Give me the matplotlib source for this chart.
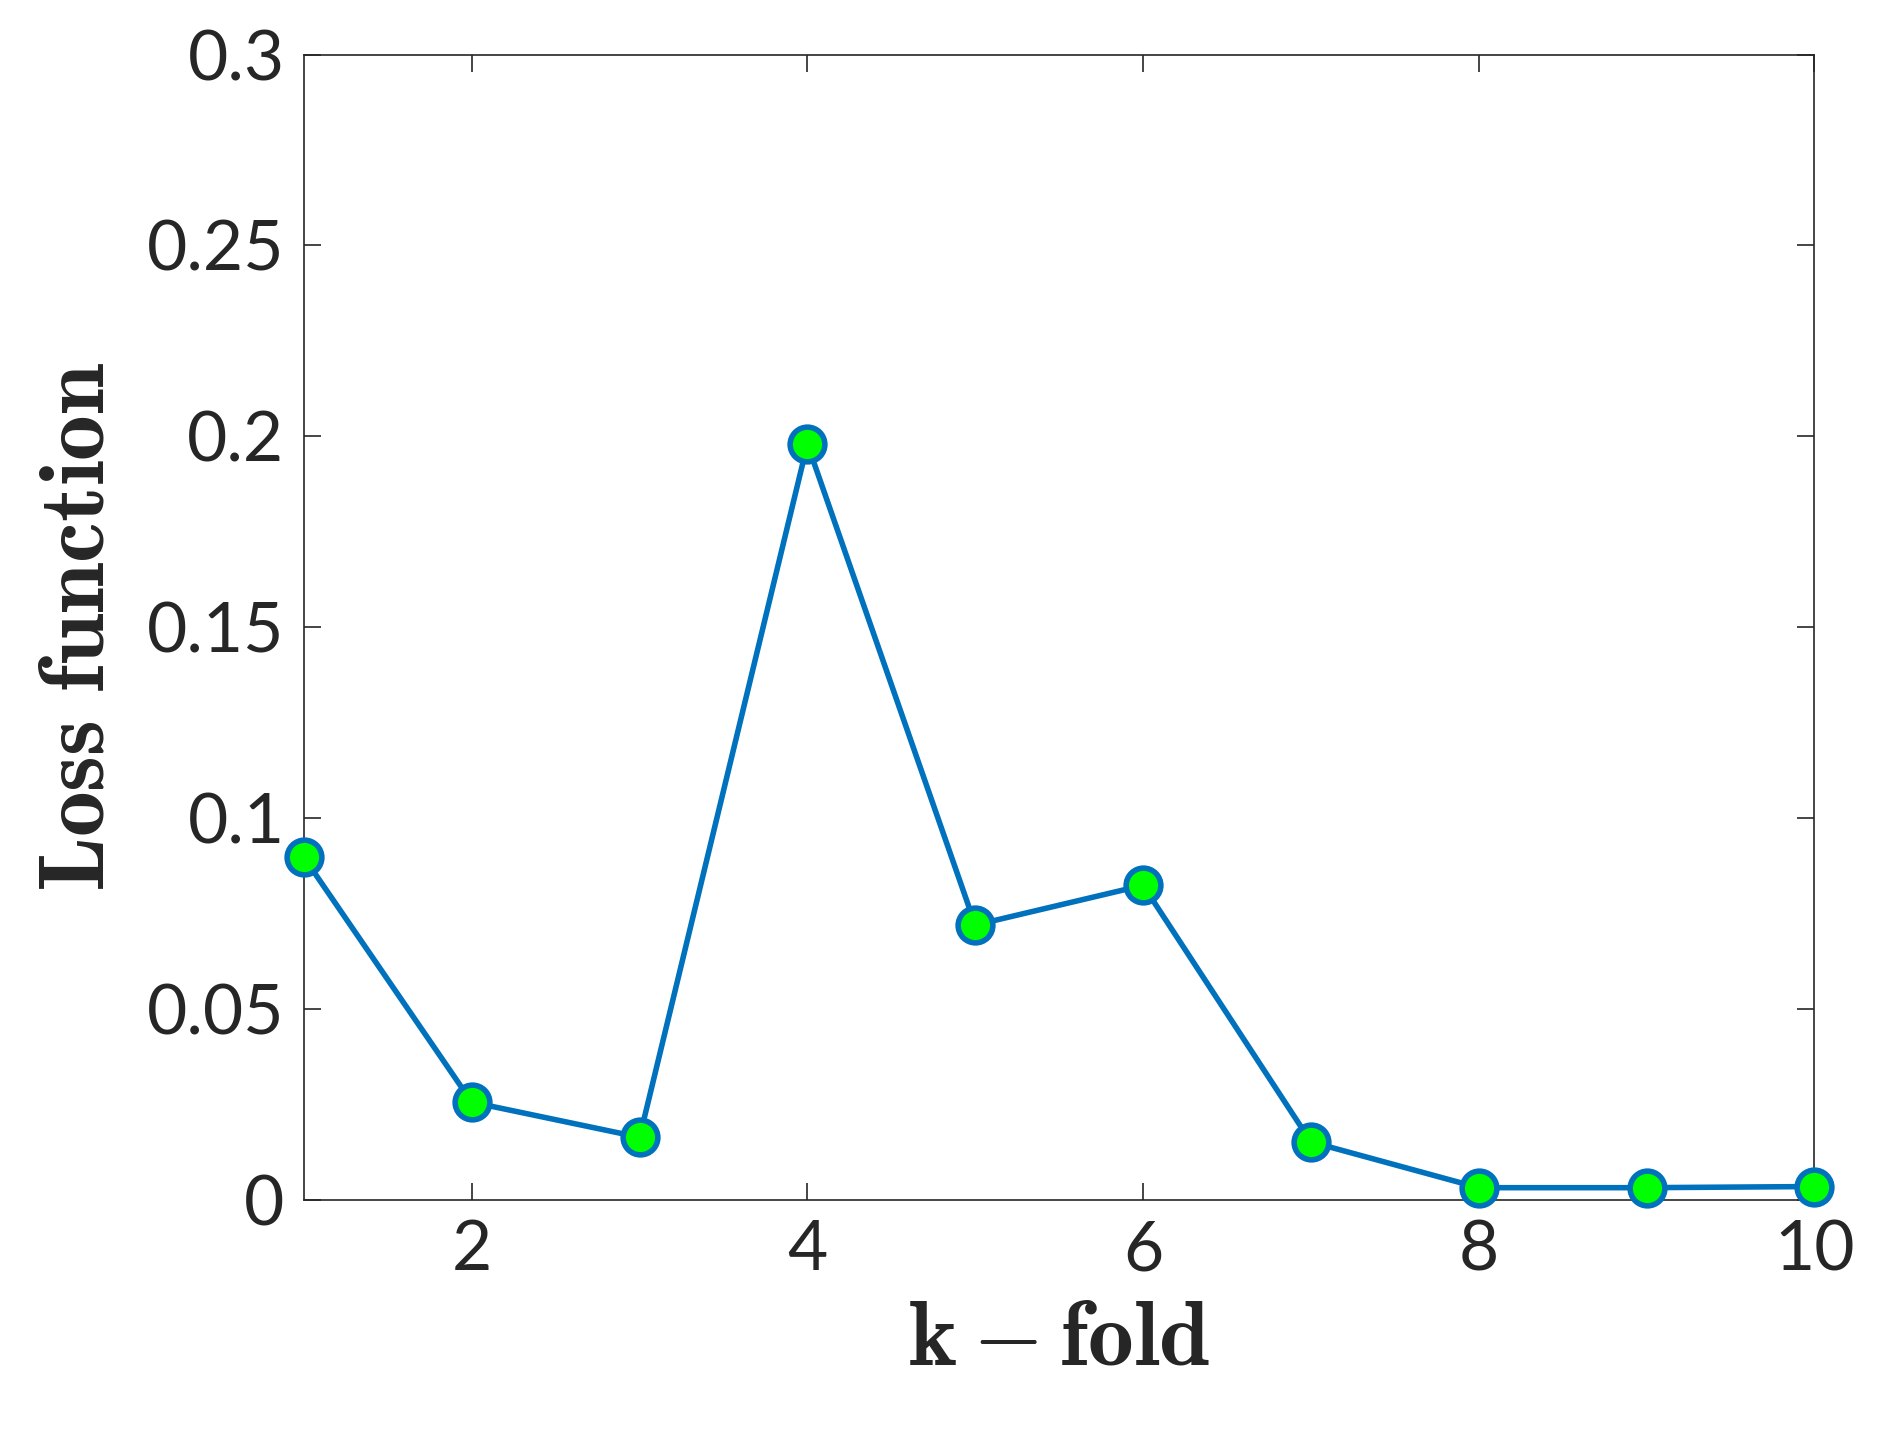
import matplotlib
matplotlib.use("Agg")
import matplotlib.pyplot as plt

folds = [1, 2, 3, 4, 5, 6, 7, 8, 9, 10]
loss = [0.0897, 0.0256, 0.0164, 0.198, 0.072, 0.0824, 0.0152, 0.0032, 0.0032, 0.0035]
xticks = [2, 4, 6, 8, 10]
yticks = [0, 0.05, 0.1, 0.15, 0.2, 0.25, 0.3]
ytick_labels = ["0", "0.05", "0.1", "0.15", "0.2", "0.25", "0.3"]

plt.rcParams['mathtext.fontset'] = 'cm'
fig = plt.figure(figsize=(18.88, 14.37), dpi=100)
ax = fig.add_axes([0.161, 0.165, 0.80, 0.797])
ax.plot(folds, loss, color='#0072bd', lw=4, marker='o', ms=25,
        mfc='#00ff00', mec='#0072bd', mew=4, clip_on=False, zorder=3)
ax.set_xlim(1, 10)
ax.set_ylim(0, 0.3)
ax.set_xticks(xticks)
ax.set_yticks(yticks)
ax.set_yticklabels(ytick_labels)
ax.tick_params(direction='in', length=12, width=1.2, top=True, right=True,
               labelsize=50, colors='#262626', pad=14)
for lab in ax.get_xticklabels() + ax.get_yticklabels():
    lab.set_family('Lato')
for s in ax.spines.values():
    s.set_linewidth(1.2)
    s.set_color('#262626')
ax.set_xlabel(r'$\mathbf{k-fold}$', fontsize=66, color='#262626', labelpad=8)
ax.set_ylabel(r'$\mathbf{Loss\ function}$', fontsize=66, color='#262626', labelpad=18)
fig.savefig('out.png', dpi=100, facecolor='white')
